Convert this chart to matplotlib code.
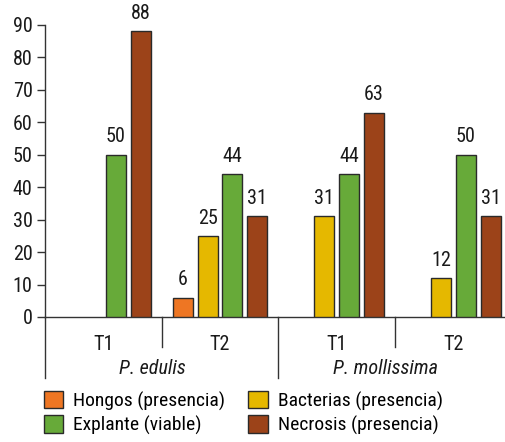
import matplotlib
matplotlib.use("Agg")
import matplotlib.pyplot as plt
import numpy as np
from matplotlib import font_manager
from matplotlib.patches import Patch

# Bar values per treatment group (percent)
groups = ["T1", "T2", "T1", "T2"]
species = ["P. edulis", "P. mollissima"]
hongos = [0, 6, 0, 0]
bacterias = [0, 25, 31, 12]
explante = [50, 44, 44, 50]
necrosis = [88, 31, 63, 31]

series_names = ["Hongos (presencia)", "Bacterias (presencia)",
                "Explante (viable)", "Necrosis (presencia)"]
series_colors = ["#EE7623", "#E5B800", "#67AA39", "#9C4319"]
yticks = [0, 10, 20, 30, 40, 50, 60, 70, 80, 90]


def pick_font(candidates):
    """Return the first installed family from the list."""
    for name in candidates:
        try:
            font_manager.findfont(name, fallback_to_default=False)
            return name
        except ValueError:
            continue
    return "DejaVu Sans"


font_name = pick_font(["Liberation Sans Narrow", "Roboto Condensed",
                       "Open Sans Condensed", "Roboto"])
plt.rcParams["font.family"] = [font_name, "DejaVu Sans"]
fs = 14.5
plt.rcParams["font.size"] = fs

W, H = 505, 442
fig = plt.figure(figsize=(W / 100, H / 100), dpi=100)
ax = fig.add_axes([45 / W, (H - 317) / H, (W - 45) / W, (317 - 25) / H])

x = np.arange(len(groups))
pitch = 0.2125
width = 0.171
all_series = [hongos, bacterias, explante, necrosis]
for k, (vals, color) in enumerate(zip(all_series, series_colors)):
    pos = x + (k - 1.5) * pitch
    for xi, v in zip(pos, vals):
        if v <= 0:
            continue
        ax.bar(xi, v, width=width, color=color, edgecolor="#2a2a2a",
               linewidth=1.0, zorder=3)
        ax.annotate(f"{v}", (xi, v), xytext=(0, 6), textcoords="offset points",
                    ha="center", va="bottom", fontsize=fs, color="#1a1a1a")

ax.set_xlim(-0.5, -0.5 + (W - 45) / 116.7)
ax.set_ylim(0, 90)
ax.set_yticks(yticks)
ax.set_xticks([])
ax.tick_params(axis="y", length=6, width=1, color="#333333", pad=3,
               labelsize=fs, labelcolor="#1a1a1a")
for side in ["top", "right"]:
    ax.spines[side].set_visible(False)
for side in ["left", "bottom"]:
    ax.spines[side].set_color("#333333")
    ax.spines[side].set_linewidth(1)

# Category dividers below the baseline
trans = ax.get_xaxis_transform()
px = 1 / (317 - 25)
for xb, depth in [(0.5, 30), (1.5, 61), (2.5, 30)]:
    ax.plot([xb, xb], [0, -depth * px], transform=trans, color="#333333",
            lw=1, clip_on=False)
ax.plot([-0.5, -0.5], [0, -61 * px], transform=trans, color="#333333",
        lw=1, clip_on=False)

for xi, g in zip(x, groups):
    ax.text(xi, -27 * px, g, transform=trans, ha="center", va="center",
            fontsize=fs, color="#1a1a1a")
for xi, s in zip([0.42, 2.42], species):
    ax.text(xi, -52 * px, s, transform=trans, ha="center", va="center",
            fontsize=fs, style="italic", color="#1a1a1a")

handles = [Patch(facecolor=c, edgecolor="#2a2a2a", linewidth=1) for c in series_colors]
order = [0, 2, 1, 3]
fig.legend([handles[i] for i in order], [series_names[i] for i in order],
           ncol=2, loc="upper left", bbox_to_anchor=(40 / W, 1 - 387 / H),
           frameon=False, fontsize=14, handlelength=1.0, handleheight=1.0,
           handletextpad=0.5, columnspacing=1.2, labelspacing=0.25,
           borderpad=0.2, borderaxespad=0)

fig.savefig("out.png", dpi=100)
